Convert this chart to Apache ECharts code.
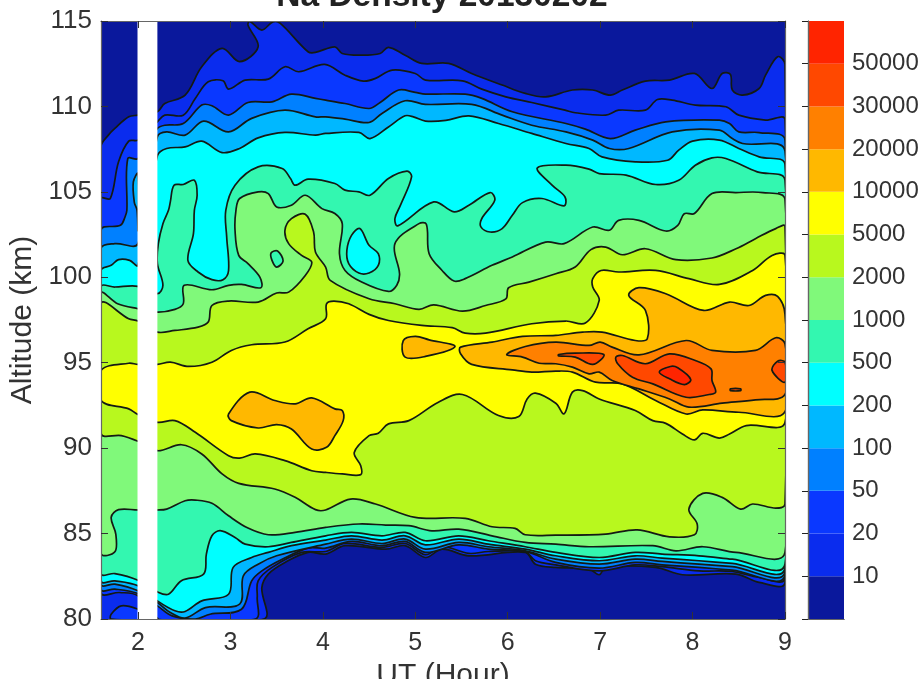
<!DOCTYPE html>
<html><head><meta charset="utf-8">
<style>html,body{margin:0;padding:0;background:#fff}#c{width:923px;height:679px}</style>
<script src="https://cdn.jsdelivr.net/npm/echarts@6/dist/echarts.min.js"></script>
</head><body><div id="c"></div>
<script>
// Axis values
const utTicks = [2,3,4,5,6,7,8,9];
const bandLabels = ['', '10','20','50','100','200','500','1000','2000','5000','10000','20000','30000','50000',''];
const bandColors = ['#0a189c','#0a2cee','#0a38ff','#0080ff','#00b8ff','#00ffff','#33f7b0','#80f97a','#b8f81e','#ffff00','#ffb800','#ff8000','#ff4800','#ff2400'];
const gapUT = [1.995, 2.21];

// Contours as [UT hour, altitude km]
const plotBox = [[1.6,80],[9,80],[9,115],[1.6,115]];

const upper10 = [[1.6,107.64],[1.68,108.32],[1.75,108.71],[1.9,109.39],[2,109.49],[2.21,109.69],[2.29,110.17],[2.51,110.66],[2.69,112.32],[2.91,113.4],[3.1,112.62],[3.3,113.49],[3.19,114.76],[3.21,114.98],[3.34,114.47],[3.46,114.95],[3.54,114.86],[3.84,113.2],[3.92,113.16],[4.13,113.49],[4.21,113.1],[4.42,113],[4.62,113.1],[4.71,113.46],[4.89,113],[5.07,112.52],[5.36,112.52],[5.61,111.93],[5.94,111.25],[6.19,110.76],[6.41,110.56],[6.7,110.96],[6.92,110.96],[7.11,110.66],[7.24,110.96],[7.49,111.48],[7.75,111.54],[8.02,111.93],[8.21,111.05],[8.32,111.93],[8.41,111.87],[8.43,110.96],[8.54,110.66],[8.72,111.05],[8.79,111.83],[8.92,112.91],[9,112.46]];
const lower10 = [[9,82.14],[8.72,82.14],[8.47,82.63],[7.89,82.59],[7.6,83.02],[7.06,83.02],[6.99,82.59],[6.88,82.92],[6.52,83.02],[6.3,83.21],[6.19,83.9],[5.58,83.7],[5.29,84.09],[5.11,83.6],[4.89,84.29],[4.68,84.09],[4.24,84.29],[4.03,83.8],[3.84,83.9],[3.59,83.31],[3.41,82.63],[3.34,81.84],[3.36,80],[1.6,80]];

const upper20 = [[1.6,104.61],[1.7,104.61],[1.79,106.76],[1.9,107.97],[2,108.03],[2.21,109.1],[2.29,109.49],[2.49,109.49],[2.62,110.47],[2.76,111.44],[2.92,111.5],[2.98,111.01],[3.16,111.54],[3.41,111.6],[3.59,112.32],[3.74,112.03],[4.02,112.46],[4.24,111.83],[4.44,111.48],[4.57,111.64],[4.75,112.13],[5,111.93],[5.11,111.54],[5.51,111.5],[5.72,111.01],[5.98,110.56],[6.26,110.23],[6.62,109.78],[6.73,109.63],[7.06,109.49],[7.2,109.78],[7.49,109.78],[7.62,110.41],[7.78,110.37],[8.03,110.08],[8.36,109.98],[8.5,109.49],[8.79,109.2],[9,109.24]];
const lower20 = [[9,82.39],[8.72,82.43],[8.43,82.78],[8.07,82.82],[7.67,83.06],[7.38,83.17],[6.99,82.82],[6.52,83.17],[6.3,83.41],[6.19,83.93],[5.79,83.95],[5.58,83.84],[5.29,84.23],[5.11,83.76],[4.89,84.42],[4.64,84.19],[4.24,84.42],[4.03,83.95],[3.77,83.9],[3.45,83.02],[3.3,82.23],[3.29,81.26],[3.27,80],[2.21,80],[2,81.36],[1.8,81.55],[1.6,81.55]];
const pocket20 = [[1.71,80],[1.71,80.28],[1.82,80.77],[2,80.57],[2.21,80]];

const upper50 = [[1.6,102.75],[1.81,103.04],[1.86,103.53],[1.88,103.92],[1.89,106.95],[2,106.95],[2.21,108.71],[2.29,108.9],[2.49,109],[2.69,110.08],[2.8,110.04],[2.98,109.49],[3.19,110.23],[3.45,110.27],[3.66,110.72],[3.92,110.47],[4.03,110.37],[4.24,110.17],[4.5,109.88],[4.62,110.23],[4.82,110.96],[5,110.82],[5.11,110.72],[5.54,110.72],[5.72,110.47],[6.05,109.69],[6.63,109],[6.84,108.67],[7.11,108.12],[7.38,108.61],[7.71,109.1],[8.29,109.2],[8.4,109],[8.5,108.51],[8.72,108.47],[9,108.03]];
const lower50 = [[9,82.59],[8.43,82.86],[8.07,83.02],[7.67,83.17],[7.38,83.31],[6.99,82.98],[6.52,83.31],[6.19,83.95],[5.79,84.09],[5.47,84.34],[5.11,83.9],[4.89,84.54],[4.64,84.29],[4.31,84.54],[4.03,84.15],[3.84,84.15],[3.56,83.5],[3.34,82.82],[3.23,82.23],[3.12,80.57],[2.78,80.28],[2.62,80],[2.37,80.18],[2.21,80.77],[2,81.49],[1.75,81.75],[1.6,81.75]];

const upper100 = [[1.6,101.67],[1.75,101.97],[2,101.97],[2.21,108.22],[2.31,108.51],[2.51,108.32],[2.71,109.14],[2.98,108.51],[3.23,109.3],[3.59,109.78],[3.92,109.39],[4.03,109.39],[4.24,109.26],[4.5,109.06],[4.64,109.59],[4.89,110.33],[5.11,110.12],[5.61,110.12],[5.94,109.49],[6.26,108.9],[6.63,108.51],[6.92,108.03],[7.1,107.54],[7.31,107.54],[7.78,108.51],[8.29,108.61],[8.43,108.12],[8.54,107.83],[9,107.38]];
const lower100 = [[9,82.78],[8.43,83.06],[8.07,83.21],[7.67,83.37],[7.38,83.5],[6.99,83.21],[6.52,83.5],[6.19,83.99],[5.79,84.23],[5.47,84.48],[5.11,84.09],[4.89,84.68],[4.64,84.42],[4.31,84.68],[4.03,84.38],[3.5,83.7],[3.3,83.21],[3.14,82.53],[3.1,80.87],[2.73,80.67],[2.51,80.05],[2.35,80.38],[2.21,80.97],[2,81.65],[1.75,82.04],[1.6,82.04]];
const sliver100 = [[2,106.07],[1.95,105.58],[1.96,104.4],[1.99,103.92],[2,102.75]];

const upper200 = [[1.6,100.4],[1.71,100.7],[1.79,101.03],[1.91,100.99],[2,100.7],[2.21,107.11],[2.31,107.54],[2.51,107.63],[2.69,107.97],[2.91,107.3],[3.1,107.54],[3.3,108.16],[3.59,108.48],[3.92,108.32],[4.03,108.42],[4.39,108.48],[4.51,108.12],[4.71,108.8],[4.89,109.45],[4.98,109.39],[5.11,109.14],[5.33,109.18],[5.58,109.45],[5.9,109],[6.26,108.42],[6.63,107.83],[6.88,107.54],[7.02,107.05],[7.38,106.76],[7.73,106.85],[7.85,107.44],[8,107.97],[8.29,108.03],[8.5,107.54],[8.72,107.05],[9,106.6]];
const lower200 = [[9,82.98],[8.43,83.25],[8.07,83.41],[7.67,83.56],[7.38,83.7],[6.99,83.41],[6.52,83.7],[6.19,84.09],[5.79,84.38],[5.47,84.68],[5.11,84.34],[4.89,84.87],[4.64,84.62],[4.31,84.87],[4.03,84.62],[3.66,84.29],[3.41,83.9],[3.23,83.6],[3.03,83.02],[2.98,81.45],[2.69,81.06],[2.51,80.44],[2.4,80.48],[2.21,81.06],[2,81.94],[1.75,82.23],[1.6,82.23]];

const upper500 = [[1.6,99.43],[1.75,99.43],[2,99.47],[2.21,99.04],[2.27,99.53],[2.21,100.8],[2.22,101.97],[2.27,103.14],[2.33,103.92],[2.35,104.41],[2.39,105.39],[2.49,105.43],[2.61,105.68],[2.64,104.8],[2.61,103.92],[2.6,102.55],[2.54,100.99],[2.65,100.31],[2.8,99.86],[2.92,99.86],[2.98,100.4],[2.96,102.36],[2.95,103.92],[3.05,105.39],[3.3,106.46],[3.56,106.37],[3.65,105.78],[3.7,105.39],[3.84,105.74],[4.13,105.49],[4.24,105.1],[4.39,105],[4.51,104.8],[4.71,105.78],[4.91,106.21],[4.96,105.88],[4.84,104.22],[4.78,103.44],[4.81,103.01],[5.2,104.41],[5.42,103.83],[5.58,104.22],[5.81,104.96],[5.86,104.51],[5.72,103.44],[5.71,102.95],[5.81,102.65],[5.94,102.85],[6.05,103.63],[6.16,104.37],[6.37,104.61],[6.61,104.18],[6.62,104.7],[6.48,105.39],[6.32,106.4],[6.63,106.56],[6.88,106.33],[6.99,106.07],[7.28,105.98],[7.6,105.43],[7.85,105.68],[8.03,106.56],[8.21,106.99],[8.36,106.95],[8.7,106.17],[9,105.68]];
const lower500 = [[9,83.21],[8.43,83.5],[8.07,83.7],[7.67,83.8],[7.38,83.9],[6.99,83.6],[6.52,83.9],[6.19,84.23],[5.79,84.58],[5.47,84.87],[5.11,84.58],[4.89,85.07],[4.64,84.87],[4.31,85.07],[4.03,84.87],[3.66,84.48],[3.41,84.23],[3.16,84.38],[3.05,84.77],[2.89,85.17],[2.8,84.87],[2.74,83.8],[2.71,82.63],[2.47,82.24],[2.33,81.45],[2.21,81.59],[2,82.27],[1.75,82.66],[1.6,82.66]];
const island200 = [[4.4,102.85],[4.5,101.87],[4.6,101.38],[4.6,100.7],[4.5,100.25],[4.39,100.25],[4.28,100.8],[4.26,101.58],[4.31,102.45]];

const upper1000 = [[1.6,99.04],[1.78,98.45],[2,98.16],[2.21,97.96],[2.4,98.12],[2.49,98.45],[2.5,99.53],[2.8,99.27],[2.98,99.53],[3.12,99.58],[3.33,99.39],[3.32,100],[3.19,100.8],[3.09,101.28],[3.05,102.75],[3.06,103.92],[3.1,104.61],[3.3,105],[3.41,104.9],[3.5,104.12],[3.66,104.22],[3.81,104.8],[3.99,104.02],[4.13,103.73],[4.21,103.14],[4.18,101.38],[4.24,100.4],[4.42,99.72],[4.71,99.17],[4.8,99.53],[4.83,100.21],[4.78,101.97],[5.04,103.14],[5.12,103.1],[5.15,101.38],[5.29,100.4],[5.42,99.78],[5.54,99.92],[5.83,100.7],[6.05,101.19],[6.41,102.06],[6.61,101.97],[6.92,102.94],[7.1,102.75],[7.2,103.33],[7.42,103.33],[7.71,102.71],[7.84,103.04],[7.91,103.72],[8.02,103.73],[8.21,104.9],[8.47,104.96],[8.76,104.96],[9,104.55]];
const lower1000 = [[9,83.9],[8.47,83.9],[8.11,84.23],[7.82,83.99],[7.57,84.29],[6.88,84.23],[6.52,84.38],[6.19,84.48],[5.83,84.87],[5.47,85.26],[5.18,85.16],[4.93,85.46],[4.68,85.5],[4.39,85.56],[4.03,85.36],[3.7,85.07],[3.41,84.93],[3.19,85.32],[2.98,86.04],[2.8,86.77],[2.62,86.96],[2.51,86.92],[2.31,86.43],[2.21,86.38],[2,86.38],[1.79,86.4],[1.71,85.95],[1.76,84.97],[1.75,83.93],[1.6,83.84]];
const island500 = [[3.44,101.42],[3.51,101.54],[3.57,100.95],[3.5,100.6],[3.45,100.99]];

const upper2000 = [[1.6,98.45],[1.9,97.57],[2,97.44],[2.21,96.79],[2.4,96.89],[2.65,97.08],[2.76,97.38],[2.8,98.35],[2.98,98.61],[3.3,98.55],[3.5,99.08],[3.63,99.13],[3.81,100.11],[3.88,100.89],[3.77,101.28],[3.63,101.97],[3.59,102.75],[3.66,103.43],[3.81,103.69],[3.9,102.65],[3.92,101.48],[4.03,100.6],[4.08,99.82],[4.5,98.74],[4.78,98.45],[5.04,98.12],[5.2,98.39],[5.51,98.02],[5.76,98.35],[5.98,98.74],[6.01,99.39],[6.23,99.72],[6.52,100.21],[6.73,100.6],[6.9,101.62],[7.06,101.77],[7.24,101.32],[7.49,101.67],[7.82,101.03],[8.21,101.13],[8.47,101.67],[8.68,102.26],[8.9,102.85],[9,102.98]];
const lower2000 = [[9,86.73],[8.9,86.49],[8.65,86.73],[8.52,86.43],[8.32,87.12],[8.11,87.35],[7.96,86.43],[8.05,85.56],[8.02,84.93],[7.75,84.81],[7.4,85.22],[7.06,84.97],[6.52,84.91],[6.19,84.93],[6.08,85.3],[5.83,85.4],[5.54,85.89],[5,85.95],[4.57,86.73],[4.3,87.02],[4.03,86.38],[3.92,86.4],[3.7,87.12],[3.48,87.61],[3.09,87.94],[2.91,88.49],[2.69,89.66],[2.47,90.2],[2.21,89.85],[2,90.4],[1.82,90.73],[1.6,90.87]];

const upper5000 = [[1.6,94.55],[1.9,94.97],[2,94.9],[2.21,94.9],[2.35,95.03],[2.55,94.78],[2.8,95.03],[3.01,95.72],[3.23,96.05],[3.59,96.21],[3.84,96.99],[4.03,97.57],[4.04,98.45],[4.12,98.61],[4.28,98.45],[4.5,97.83],[4.71,97.47],[5.07,97.18],[5.4,97.05],[5.54,96.73],[5.76,96.73],[6.26,97.28],[6.63,97.44],[6.84,97.32],[6.99,98.65],[6.92,99.43],[6.92,99.92],[7.01,100.4],[7.2,100.31],[7.6,100.4],[7.96,99.92],[8.29,99.58],[8.65,100.4],[8.86,101.28],[9,101.28]];
const lower5000 = [[9,91.51],[8.58,91.32],[8.4,90.83],[8.29,90.59],[8.11,90.87],[8.02,90.48],[7.89,90.83],[7.71,91.45],[7.57,91.61],[7.38,92.2],[6.99,92.88],[6.81,93.37],[6.7,93.28],[6.61,92.01],[6.52,92.63],[6.3,93.22],[6.21,92.88],[6.12,91.85],[5.9,91.91],[5.51,93.14],[5.25,92.69],[4.93,91.61],[4.71,91.42],[4.6,90.87],[4.5,90.73],[4.34,89.75],[4.41,88.97],[4.41,88.45],[4.21,88.49],[4.03,88.58],[3.88,88.68],[3.59,89.27],[3.27,89.66],[3.1,89.42],[2.98,89.56],[2.62,90.93],[2.4,91.61],[2.21,91.51],[2,91.97],[1.9,92.3],[1.6,92.79]];

const blobA10000 = [[2.98,92],[3.21,93.28],[3.48,92.79],[3.7,92.59],[3.88,92.94],[4.13,92.3],[4.21,92.2],[4.22,91.61],[4.13,90.73],[4.04,90.05],[3.88,89.95],[3.66,91.12],[3.5,91.38],[3.3,91.18],[3.01,91.61]];
const blobB10000 = [[4.87,96.3],[5,96.54],[5.15,96.34],[5.43,95.95],[5.11,95.37],[4.89,95.33]];
const main10000 = [[5.49,95.91],[5.83,96.21],[6.16,96.54],[6.52,96.6],[6.81,96.79],[7.02,96.79],[7.38,96.3],[7.51,96.4],[7.49,98.06],[7.31,98.94],[7.42,99.39],[7.71,99.04],[8.12,98.06],[8.4,98.55],[8.61,98.35],[8.79,98.94],[8.92,98.88],[9,97.83],[9,92.14],[8.5,92.1],[8.11,92.24],[7.93,92],[7.6,92.79],[7.24,93.76],[6.95,93.86],[6.7,94.45],[6.52,94.51],[6.26,94.45],[6.05,94.58],[5.61,94.9],[5.49,95.52]];

const main20000 = [[5.99,95.48],[6.19,95.95],[6.52,96.2],[6.88,96.01],[7,96.21],[7.13,95.91],[7.42,95.46],[7.93,96.3],[8.21,95.72],[8.68,95.72],[8.9,96.46],[9,96.11],[9,93.14],[8.68,92.83],[8.32,92.63],[7.96,92.4],[7.75,92.88],[7.42,93.47],[7.13,93.96],[6.99,94.45],[6.88,94.35],[6.7,94.74],[6.52,94.94],[6.34,94.97],[6.16,95.33]];

const blobA30000 = [[6.55,95.48],[6.73,95.56],[7.04,95.48],[6.92,94.9],[6.73,95.33],[6.55,95.4]];
const blobB30000 = [[7.17,95.33],[7.24,95.42],[7.49,94.94],[7.75,95.52],[8.03,95.13],[8.2,94.64],[8.21,93.96],[8.25,93.28],[8.18,93.14],[7.93,92.98],[7.57,93.76],[7.35,94.15],[7.19,94.94]];
const blobC30000 = [[9,95.03],[8.92,95.09],[8.86,94.55],[9,93.86]];
const dash30000 = [[8.41,93.47],[8.52,93.47],[8.52,93.37],[8.41,93.37]];
const blob50000 = [[7.64,94.45],[7.76,94.78],[7.84,94.7],[7.98,94.02],[7.91,93.72],[7.75,94.06]];

// Paint order: [colour band, outline]
const layers = [
  [0, plotBox],
  [1, upper10.concat(lower10)],
  [2, upper20.concat(lower20)], [2, pocket20],
  [3, upper50.concat(lower50)],
  [4, upper100.concat(lower100)], [4, sliver100],
  [5, upper200.concat(lower200)],
  [6, upper500.concat(lower500)], [5, island200],
  [7, upper1000.concat(lower1000)], [6, island500],
  [8, upper2000.concat(lower2000)],
  [9, upper5000.concat(lower5000)],
  [10, blobA10000], [10, blobB10000], [10, main10000],
  [11, main20000],
  [12, blobA30000], [12, blobB30000], [12, blobC30000], [12, dash30000],
  [13, blob50000]
];

const FONT = '"Liberation Sans", Arial, sans-serif';
const TXT = '#333';
const FRAME = '#666';
const hiddenLabel = {show:false};
const line = {show:true, lineStyle:{color:FRAME, width:1.2}};
const chart = echarts.init(document.getElementById('c'), null, {renderer:'canvas'});
chart.setOption({
  animation:false,
  backgroundColor:'#fff',
  title:{text:'Na Density 20130202', left:437, textAlign:'center', top:-25,
    textStyle:{fontFamily:FONT,fontSize:33.5,fontWeight:'bold',color:'#222'}},
  grid:[
    {left:101, top:21, width:684, height:598, outerBoundsMode:'none'},
    {left:808, top:21, width:36, height:598, outerBoundsMode:'none'}
  ],
  xAxis:[
    {gridIndex:0, type:'value', min:1.6, max:9, position:'bottom', z:10, name:'UT (Hour)', nameLocation:'middle', nameGap:33,
     nameTextStyle:{fontFamily:FONT,fontSize:30,color:TXT},
     axisLine:line, splitLine:{show:false},
     axisTick:{show:true, inside:true, length:7, customValues:utTicks, lineStyle:{color:'#333'}},
     axisLabel:{show:true, customValues:utTicks, margin:12, fontFamily:FONT, fontSize:25, color:TXT, formatter:v=>String(v)}},
    {gridIndex:0, type:'value', min:1.6, max:9, position:'top', z:10, axisLine:line, splitLine:{show:false},
     axisTick:{show:true, inside:true, length:7, customValues:utTicks, lineStyle:{color:'#333'}}, axisLabel:hiddenLabel},
    {gridIndex:1, type:'value', min:0, max:1, position:'bottom', z:10, axisLine:line, splitLine:{show:false}, axisTick:{show:false}, axisLabel:hiddenLabel},
    {gridIndex:1, type:'value', min:0, max:1, position:'top', z:10, axisLine:line, splitLine:{show:false}, axisTick:{show:false}, axisLabel:hiddenLabel}
  ],
  yAxis:[
    {gridIndex:0, type:'value', min:80, max:115, interval:5, position:'left', z:10, name:'Altitude (km)', nameLocation:'middle', nameGap:59, nameRotate:90,
     nameTextStyle:{fontFamily:FONT,fontSize:30,color:TXT},
     axisLine:line, splitLine:{show:false},
     axisTick:{show:true, inside:true, length:7, lineStyle:{color:'#333'}},
     axisLabel:{margin:9, fontFamily:FONT, fontSize:26, color:TXT}},
    {gridIndex:0, type:'value', min:80, max:115, interval:5, position:'right', z:10, axisLine:line, splitLine:{show:false},
     axisTick:{show:true, inside:true, length:7, lineStyle:{color:'#333'}}, axisLabel:hiddenLabel},
    {gridIndex:1, type:'value', min:0, max:14, interval:1, position:'left', z:10, axisLine:line, splitLine:{show:false}, axisTick:{show:false}, axisLabel:hiddenLabel},
    {gridIndex:1, type:'value', min:0, max:14, interval:1, position:'right', z:10, axisLine:line, splitLine:{show:false},
     axisTick:{show:true, inside:true, length:6, lineStyle:{color:'#222'}},
     axisLabel:{margin:8, fontFamily:FONT, fontSize:24, color:TXT, formatter:v=>bandLabels[v]}}
  ],
  series:[
    {type:'custom', xAxisIndex:0, yAxisIndex:0, z:2, clip:true, silent:true,
     data:layers.map((l,i)=>[i]),
     renderItem:(p,api)=>{
       const l = layers[api.value(0)];
       return {type:'polygon', shape:{points:l[1].map(q=>api.coord(q)), smooth:l[0]===0?0:0.35},
         style:{fill:bandColors[l[0]], stroke:l[0]===0?null:'#141a14', lineWidth:1.7, lineJoin:'round'}};
     }},
    {type:'custom', xAxisIndex:0, yAxisIndex:0, z:3, clip:true, silent:true,
     data:[[gapUT[0],gapUT[1]]],
     renderItem:(p,api)=>{
       const a = api.coord([api.value(0),115]), b = api.coord([api.value(1),80]);
       return {type:'rect', shape:{x:a[0],y:a[1],width:b[0]-a[0],height:b[1]-a[1]}, style:{fill:'#fff'}};
     }},
    {type:'custom', xAxisIndex:2, yAxisIndex:2, z:2, silent:true,
     data:bandColors.map((c,i)=>[i,i+1]),
     renderItem:(p,api)=>{
       const a = api.coord([0,api.value(1)]), b = api.coord([1,api.value(0)]);
       return {type:'rect', shape:{x:a[0],y:a[1],width:b[0]-a[0],height:b[1]-a[1]}, style:{fill:bandColors[api.value(0)]}};
     }}
  ]
});
</script></body></html>
